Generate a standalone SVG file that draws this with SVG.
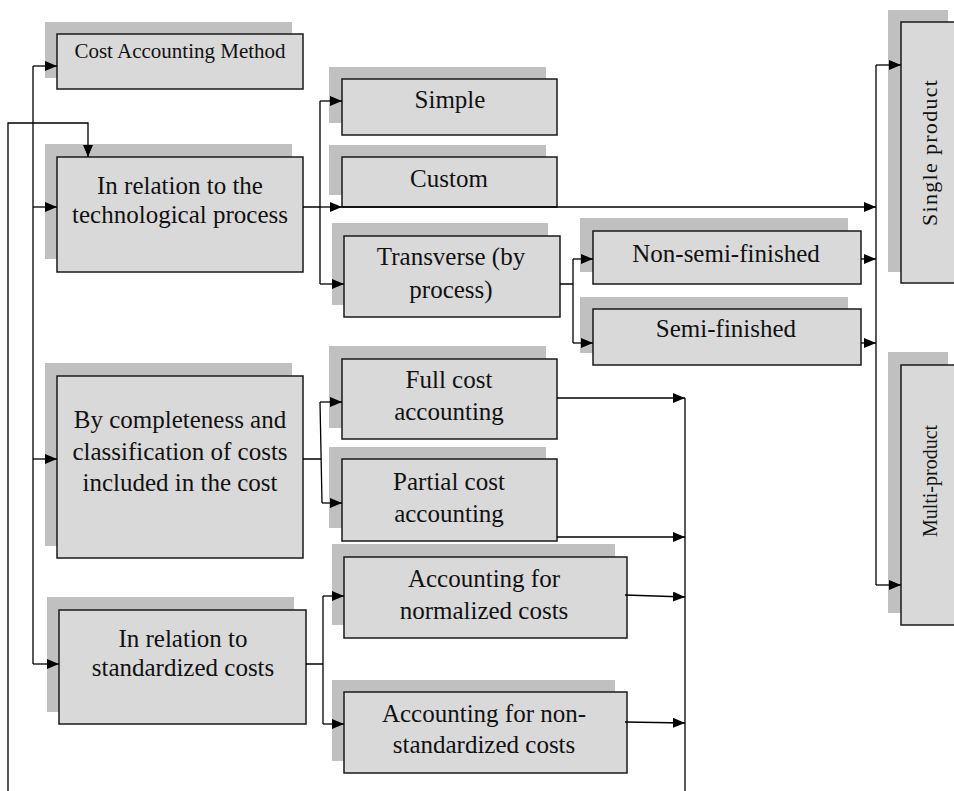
<svg xmlns="http://www.w3.org/2000/svg" width="954" height="791" viewBox="0 0 954 791">
  <defs>
    <marker id="arrow" markerUnits="userSpaceOnUse" markerWidth="12" markerHeight="10" refX="12" refY="5" orient="auto">
      <path d="M0,0 L12,5 L0,10 Z" fill="#000"/>
    </marker>
    <style>
      .shadow { fill: #c0c0c0; stroke: none; }
      .box { fill: #d9d9d9; stroke: #1a1a1a; stroke-width: 1.5; }
      .label { font-family: "Liberation Serif", "Times New Roman", serif; font-size: 25px; fill: #111; text-anchor: middle; }
      .small { font-size: 21px; }
      .side { font-size: 20px; }
      .wire { fill: none; stroke: #000; stroke-width: 1.3; }
      .arr { marker-end: url(#arrow); }
    </style>
  </defs>
  <rect width="954" height="791" fill="#fff"/>

  <!-- Nodes -->
  <g id="cost-accounting-method">
    <rect class="shadow" x="45" y="22" width="247" height="56"/>
    <rect class="box" x="57" y="34" width="246" height="55"/>
    <text class="label small" x="180" y="58">Cost Accounting Method</text>
  </g>

  <g id="technological-process">
    <rect class="shadow" x="45" y="144" width="247" height="115"/>
    <rect class="box" x="57" y="157" width="246" height="115"/>
    <text class="label" x="180" y="194">In relation to the</text>
    <text class="label" x="180" y="223">technological process</text>
  </g>

  <g id="simple">
    <rect class="shadow" x="329" y="67" width="217" height="56"/>
    <rect class="box" x="342" y="79" width="215" height="56"/>
    <text class="label" x="450" y="108">Simple</text>
  </g>

  <g id="custom">
    <rect class="shadow" x="329" y="145" width="217" height="50"/>
    <rect class="box" x="342" y="157" width="215" height="50"/>
    <text class="label" x="449" y="187">Custom</text>
  </g>

  <g id="transverse">
    <rect class="shadow" x="332" y="223" width="216" height="82"/>
    <rect class="box" x="344" y="236" width="216" height="81"/>
    <text class="label" x="451" y="265">Transverse (by</text>
    <text class="label" x="451" y="298">process)</text>
  </g>

  <g id="non-semi-finished">
    <rect class="shadow" x="580" y="218" width="268" height="54"/>
    <rect class="box" x="593" y="231" width="268" height="53"/>
    <text class="label" x="726" y="262">Non-semi-finished</text>
  </g>

  <g id="semi-finished">
    <rect class="shadow" x="580" y="297" width="268" height="56"/>
    <rect class="box" x="593" y="309" width="268" height="56"/>
    <text class="label" x="726" y="337">Semi-finished</text>
  </g>

  <g id="single-product">
    <rect class="shadow" x="888" y="10" width="60" height="262"/>
    <rect class="box" x="901" y="22" width="60" height="261"/>
    <text class="label" style="font-size:22px" x="937" y="153" transform="rotate(-90 937 153)" textLength="146" lengthAdjust="spacing">Single product</text>
  </g>

  <g id="multi-product">
    <rect class="shadow" x="888" y="352" width="60" height="261"/>
    <rect class="box" x="901" y="365" width="60" height="260"/>
    <text class="label side" x="937" y="481" transform="rotate(-90 937 481)">Multi-product</text>
  </g>

  <g id="completeness">
    <rect class="shadow" x="45" y="363" width="247" height="183"/>
    <rect class="box" x="57" y="376" width="246" height="182"/>
    <text class="label" x="180" y="428">By completeness and</text>
    <text class="label" x="180" y="460">classification of costs</text>
    <text class="label" x="180" y="491">included in the cost</text>
  </g>

  <g id="full-cost">
    <rect class="shadow" x="329" y="346" width="217" height="82"/>
    <rect class="box" x="342" y="359" width="215" height="80"/>
    <text class="label" x="449" y="388">Full cost</text>
    <text class="label" x="449" y="420">accounting</text>
  </g>

  <g id="partial-cost">
    <rect class="shadow" x="329" y="447" width="217" height="81"/>
    <rect class="box" x="342" y="459" width="215" height="82"/>
    <text class="label" x="449" y="490">Partial cost</text>
    <text class="label" x="449" y="522">accounting</text>
  </g>

  <g id="standardized">
    <rect class="shadow" x="47" y="597" width="247" height="115"/>
    <rect class="box" x="59" y="610" width="247" height="114"/>
    <text class="label" x="183" y="647">In relation to</text>
    <text class="label" x="183" y="676">standardized costs</text>
  </g>

  <g id="normalized">
    <rect class="shadow" x="332" y="544" width="283" height="81"/>
    <rect class="box" x="344" y="557" width="283" height="81"/>
    <text class="label" x="484" y="587">Accounting for</text>
    <text class="label" x="484" y="619">normalized costs</text>
  </g>

  <g id="non-standardized">
    <rect class="shadow" x="332" y="680" width="283" height="81"/>
    <rect class="box" x="344" y="692" width="283" height="81"/>
    <text class="label" x="484" y="722">Accounting for non-</text>
    <text class="label" x="484" y="753">standardized costs</text>
  </g>

  <!-- Connectors -->
  <g id="connectors">
    <!-- return line along the left margin -->
    <path class="wire arr" d="M8,791 V123 H88 V157"/>
    <!-- left trunk feeding the groups -->
    <path class="wire" d="M33,66 V664"/>
    <path class="wire arr" d="M33,66 H57"/>
    <path class="wire arr" d="M33,207 H57"/>
    <path class="wire arr" d="M33,459 H57"/>
    <path class="wire arr" d="M33,664 H59"/>

    <!-- technological process branches -->
    <path class="wire" d="M303,207 H320 M320,101 V284"/>
    <path class="wire arr" d="M320,101 H342"/>
    <path class="wire arr" d="M320,207 H342"/>
    <path class="wire arr" d="M320,284 H344"/>
    <path class="wire arr" d="M342,207 H876"/>

    <!-- transverse branches -->
    <path class="wire" d="M560,284 H573 M573,259 V343"/>
    <path class="wire arr" d="M573,259 H593"/>
    <path class="wire arr" d="M573,343 H593"/>
    <path class="wire arr" d="M861,259 H876"/>
    <path class="wire arr" d="M861,343 H876"/>

    <!-- right collector to product types -->
    <path class="wire" d="M876,65 V585"/>
    <path class="wire arr" d="M876,65 H901"/>
    <path class="wire arr" d="M876,585 H901"/>

    <!-- completeness branches -->
    <path class="wire" d="M303,459 H321 M320,402 L322,503"/>
    <path class="wire arr" d="M320,402 H342"/>
    <path class="wire arr" d="M322,503 H342"/>

    <!-- standardized branches -->
    <path class="wire" d="M306,664 H323 M323,596 V724"/>
    <path class="wire arr" d="M323,596 H344"/>
    <path class="wire arr" d="M323,724 H344"/>

    <!-- collector on the right of the cost blocks -->
    <path class="wire" d="M685,398 V791"/>
    <path class="wire arr" d="M557,398 H685"/>
    <path class="wire arr" d="M557,537 H685"/>
    <path class="wire arr" d="M625,595 L685,597"/>
    <path class="wire arr" d="M625,722 L685,723"/>
  </g>
</svg>
